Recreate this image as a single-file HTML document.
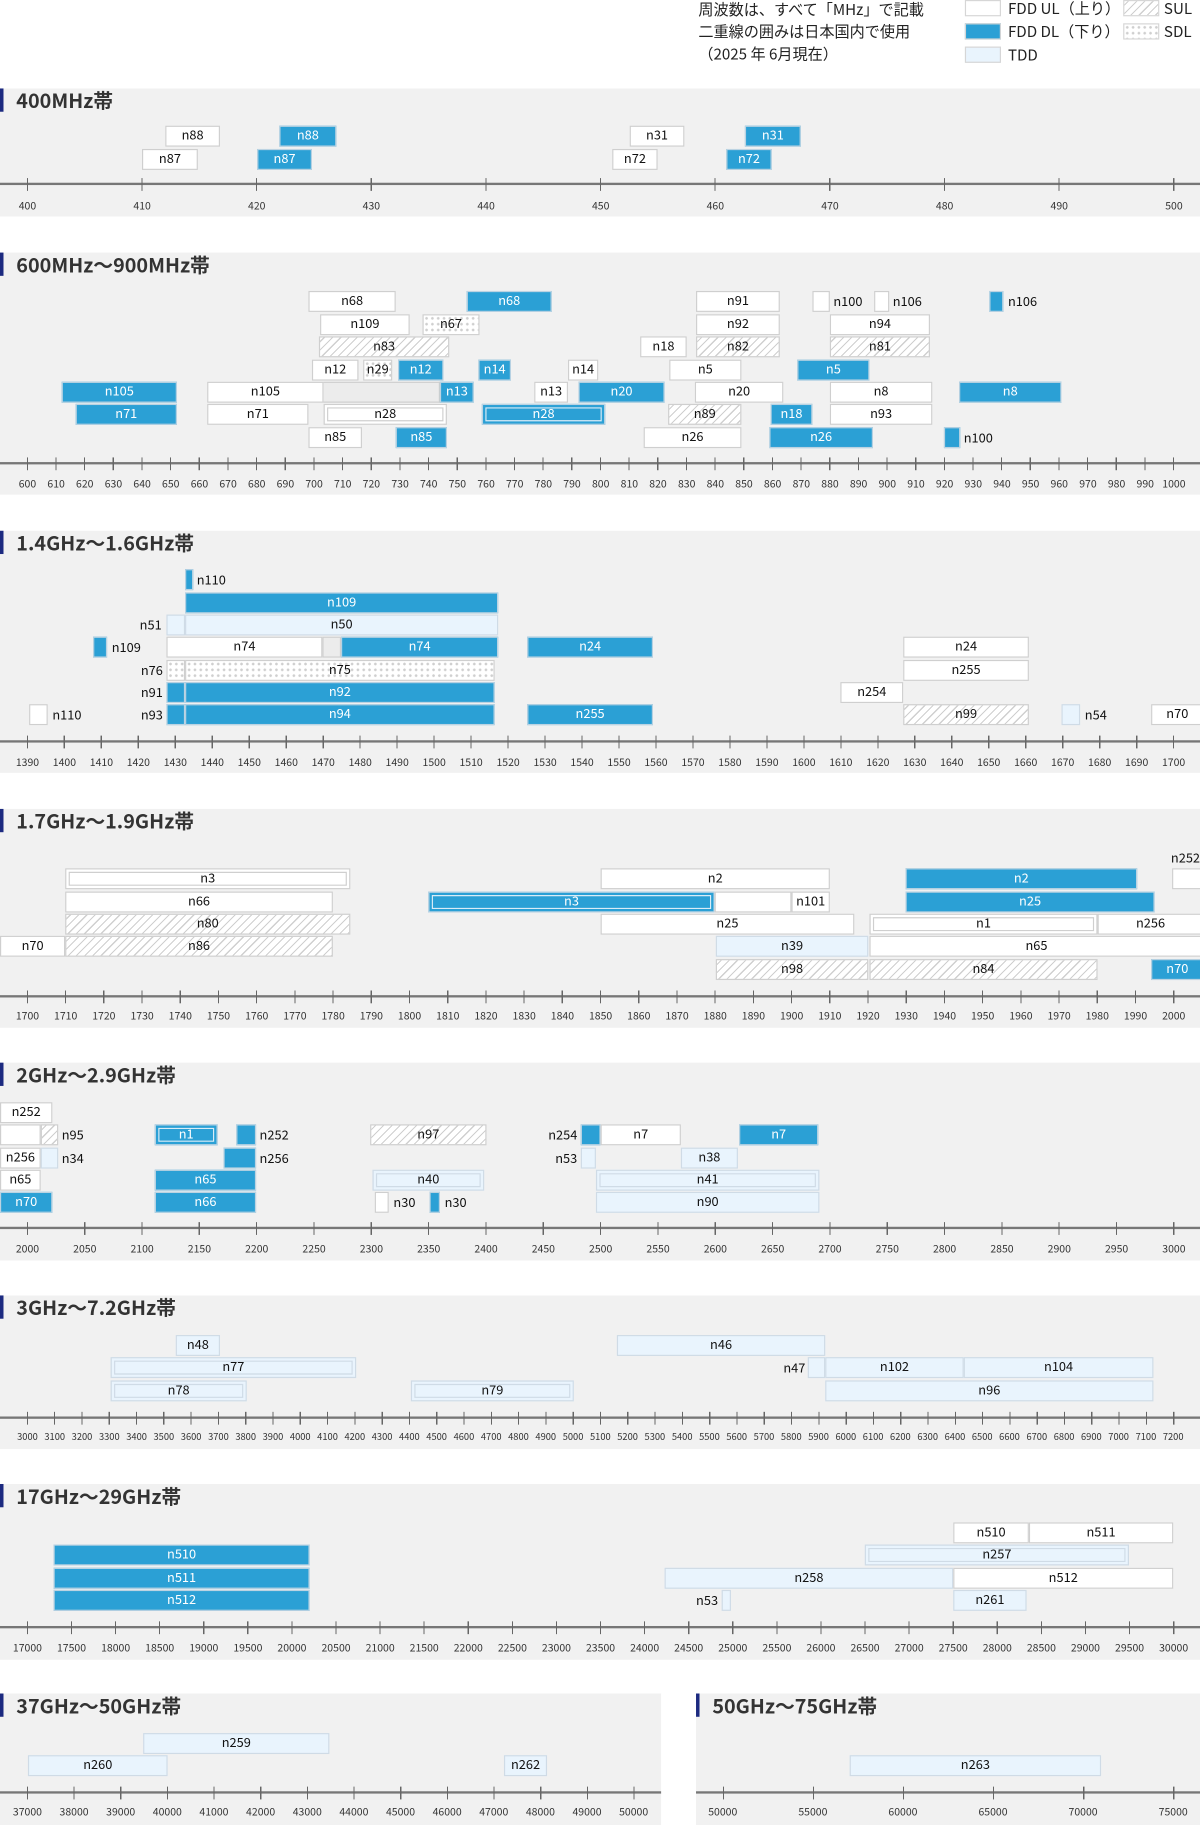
<!DOCTYPE html>
<html><head><meta charset="utf-8"><style>
*{margin:0;padding:0;box-sizing:border-box}
body{width:1200px;height:1825px;background:#fff;overflow:hidden;font-family:"Liberation Sans","Noto Sans CJK JP",sans-serif}
#w{position:absolute;left:0;top:0;width:1031px;height:1568px;transform:scale(1.16392);transform-origin:0 0;font-family:"Noto Sans CJK JP","Liberation Sans",sans-serif}
.sec{position:absolute;background:#f1f1f1}
.tt{position:absolute;font-size:17px;font-weight:bold;color:#333;line-height:20px;padding-left:11px;border-left:3px solid #1c2a80;margin-left:0}
.b{position:absolute;height:18px;border:1.5px solid #cfcfcf;font-size:11px;line-height:15px;text-align:center;color:#111;white-space:nowrap;overflow:hidden}
.w{background:#fff}
.d{background:#2ba0d5;color:#fff;border-color:#bcd3e2}
.t{background:#e9f4fd;border-color:#cfdbe6}
.s{background:repeating-linear-gradient(135deg,#fff 0 2px,#cfcfcf 2px 3px,#fff 3px 5px)}
.p{background-color:#fff;background-image:radial-gradient(#cfcfcf 1px,transparent 1.3px);background-size:5px 5px}
.g{background:#ececec}
.x{box-shadow:inset 0 0 0 2px #fff,inset 0 0 0 3px #cfcfcf}
.d.x{box-shadow:inset 0 0 0 2px #2ba0d5,inset 0 0 0 3px #d9ecf7}
.t.x{box-shadow:inset 0 0 0 2px #e9f4fd,inset 0 0 0 3px #cfdbe6}
.l{position:absolute;font-size:11px;line-height:18px;color:#111;white-space:nowrap}
.ax{position:absolute;height:2px;background:#777}
.tk{position:absolute;height:11px}
.lb{position:absolute;display:flex;justify-content:space-between;font-size:9px;color:#333;line-height:12px}
.lb span{display:block;width:34px;text-align:center}
.lg{position:absolute;font-size:13px;color:#222;line-height:19px}
.lgb{position:absolute;width:31px;height:14px;border:1.5px solid #d6d6d6}
</style></head><body><div id="w">

<div class="lg" style="left:600px;top:-2px">周波数は、すべて「MHz」で記載<br>二重線の囲みは日本国内で使用<br>（2025 年 6月現在）</div>
<div class="lgb" style="left:829px;top:0;background:#fff"></div><div class="lg" style="left:866px;top:-3px">FDD UL（上り）</div>
<div class="lgb" style="left:829px;top:20px;background:#2ba0d5"></div><div class="lg" style="left:866px;top:17px">FDD DL（下り）</div>
<div class="lgb" style="left:829px;top:40px;background:#e9f4fd"></div><div class="lg" style="left:866px;top:37px">TDD</div>
<div class="lgb s" style="left:965px;top:0;border:1.5px solid #d6d6d6"></div><div class="lg" style="left:1000px;top:-3px">SUL</div>
<div class="lgb p" style="left:965px;top:20px;border:1.5px solid #d6d6d6"></div><div class="lg" style="left:1000px;top:17px">SDL</div>

<!-- S1 -->
<div class="sec" style="left:0;top:76px;width:1031px;height:110px"></div>
<div class="tt" style="left:0;top:76px">400MHz帯</div>
<div class="b w" style="left:142px;top:108px;width:47px">n88</div>
<div class="b d" style="left:240px;top:108px;width:49px">n88</div>
<div class="b w" style="left:122px;top:128px;width:48px">n87</div>
<div class="b d" style="left:221px;top:128px;width:47px">n87</div>
<div class="b w" style="left:541px;top:108px;width:47px">n31</div>
<div class="b d" style="left:640px;top:108px;width:48px">n31</div>
<div class="b w" style="left:526px;top:128px;width:39px">n72</div>
<div class="b d" style="left:624px;top:128px;width:39px">n72</div>
<div class="ax" style="left:0;top:157px;width:1031px"></div>
<div class="tk" style="left:23.1px;top:153px;width:987px;background:repeating-linear-gradient(to right,#666 0 1px,transparent 1px 98.49px)"></div>
<div class="lb" style="left:6.6px;top:171px;width:1019px"><span>400</span><span>410</span><span>420</span><span>430</span><span>440</span><span>450</span><span>460</span><span>470</span><span>480</span><span>490</span><span>500</span></div>

<!-- S2 -->
<div class="sec" style="left:0;top:217px;width:1031px;height:208px"></div>
<div class="tt" style="left:0;top:217px">600MHz～900MHz帯</div>
<div class="b w" style="left:265px;top:250px;width:75px">n68</div>
<div class="b d" style="left:401px;top:250px;width:73px">n68</div>
<div class="b w" style="left:598px;top:250px;width:72px">n91</div>
<div class="b w" style="left:698px;top:250px;width:15px"></div><div class="l" style="left:716px;top:250px">n100</div>
<div class="b w" style="left:751px;top:250px;width:13px"></div><div class="l" style="left:767px;top:250px">n106</div>
<div class="b d" style="left:850px;top:250px;width:12px"></div><div class="l" style="left:866px;top:250px">n106</div>
<div class="b w" style="left:275px;top:270px;width:77px">n109</div>
<div class="b p" style="left:363px;top:270px;width:49px">n67</div>
<div class="b w" style="left:598px;top:270px;width:72px">n92</div>
<div class="b w" style="left:713px;top:270px;width:86px">n94</div>
<div class="b s" style="left:274px;top:289px;width:112px">n83</div>
<div class="b w" style="left:550px;top:289px;width:40px">n18</div>
<div class="b s" style="left:598px;top:289px;width:72px">n82</div>
<div class="b s" style="left:713px;top:289px;width:86px">n81</div>
<div class="b w" style="left:268px;top:309px;width:40px">n12</div>
<div class="b p" style="left:312px;top:309px;width:25px">n29</div>
<div class="b d" style="left:342px;top:309px;width:39px">n12</div>
<div class="b d" style="left:411px;top:309px;width:28px">n14</div>
<div class="b w" style="left:488px;top:309px;width:26px">n14</div>
<div class="b w" style="left:575px;top:309px;width:62px">n5</div>
<div class="b d" style="left:685px;top:309px;width:62px">n5</div>
<div class="b d" style="left:53px;top:328px;width:99px">n105</div>
<div class="b w" style="left:178px;top:328px;width:100px">n105</div>
<div class="b g" style="left:278px;top:328px;width:100px;border-left:none"></div>
<div class="b d" style="left:378px;top:328px;width:29px">n13</div>
<div class="b w" style="left:459px;top:328px;width:29px">n13</div>
<div class="b d" style="left:497px;top:328px;width:74px">n20</div>
<div class="b w" style="left:597px;top:328px;width:76px">n20</div>
<div class="b w" style="left:713px;top:328px;width:88px">n8</div>
<div class="b d" style="left:824px;top:328px;width:88px">n8</div>
<div class="b d" style="left:65px;top:347px;width:87px">n71</div>
<div class="b w" style="left:178px;top:347px;width:87px">n71</div>
<div class="b w x" style="left:278px;top:347px;width:106px">n28</div>
<div class="b d x" style="left:414px;top:347px;width:106px">n28</div>
<div class="b s" style="left:574px;top:347px;width:63px">n89</div>
<div class="b d" style="left:662px;top:347px;width:36px">n18</div>
<div class="b w" style="left:713px;top:347px;width:88px">n93</div>
<div class="b w" style="left:265px;top:367px;width:46px">n85</div>
<div class="b d" style="left:340px;top:367px;width:44px">n85</div>
<div class="b w" style="left:553px;top:367px;width:84px">n26</div>
<div class="b d" style="left:661px;top:367px;width:89px">n26</div>
<div class="b d" style="left:811px;top:367px;width:14px"></div><div class="l" style="left:828px;top:367px">n100</div>
<div class="ax" style="left:0;top:397px;width:1031px"></div>
<div class="tk" style="left:23.1px;top:393px;width:987px;background:repeating-linear-gradient(to right,#666 0 1px,transparent 1px 24.62px)"></div>
<div class="lb" style="left:11.6px;top:410px;width:1009px"><span style="width:24px">600</span><span style="width:24px">610</span><span style="width:24px">620</span><span style="width:24px">630</span><span style="width:24px">640</span><span style="width:24px">650</span><span style="width:24px">660</span><span style="width:24px">670</span><span style="width:24px">680</span><span style="width:24px">690</span><span style="width:24px">700</span><span style="width:24px">710</span><span style="width:24px">720</span><span style="width:24px">730</span><span style="width:24px">740</span><span style="width:24px">750</span><span style="width:24px">760</span><span style="width:24px">770</span><span style="width:24px">780</span><span style="width:24px">790</span><span style="width:24px">800</span><span style="width:24px">810</span><span style="width:24px">820</span><span style="width:24px">830</span><span style="width:24px">840</span><span style="width:24px">850</span><span style="width:24px">860</span><span style="width:24px">870</span><span style="width:24px">880</span><span style="width:24px">890</span><span style="width:24px">900</span><span style="width:24px">910</span><span style="width:24px">920</span><span style="width:24px">930</span><span style="width:24px">940</span><span style="width:24px">950</span><span style="width:24px">960</span><span style="width:24px">970</span><span style="width:24px">980</span><span style="width:24px">990</span><span style="width:24px">1000</span></div>

<!-- S3 -->
<div class="sec" style="left:0;top:456px;width:1031px;height:208px"></div>
<div class="tt" style="left:0;top:456px">1.4GHz～1.6GHz帯</div>
<div class="b d" style="left:159px;top:489px;width:7px"></div><div class="l" style="left:169px;top:489px">n110</div>
<div class="b d" style="left:159px;top:509px;width:269px">n109</div>
<div class="l" style="left:120px;top:528px">n51</div><div class="b t" style="left:143px;top:528px;width:16px"></div>
<div class="b t" style="left:159px;top:528px;width:269px">n50</div>
<div class="b d" style="left:80px;top:547px;width:12px"></div><div class="l" style="left:96px;top:547px">n109</div>
<div class="b w" style="left:143px;top:547px;width:134px">n74</div>
<div class="b g" style="left:277px;top:547px;width:16px"></div>
<div class="b d" style="left:293px;top:547px;width:135px">n74</div>
<div class="b d" style="left:453px;top:547px;width:108px">n24</div>
<div class="b w" style="left:776px;top:547px;width:108px">n24</div>
<div class="l" style="left:121px;top:567px">n76</div><div class="b p" style="left:143px;top:567px;width:16px"></div>
<div class="b p" style="left:159px;top:567px;width:266px">n75</div>
<div class="b w" style="left:776px;top:567px;width:108px">n255</div>
<div class="l" style="left:121px;top:586px">n91</div><div class="b d" style="left:143px;top:586px;width:16px"></div>
<div class="b d" style="left:159px;top:586px;width:266px">n92</div>
<div class="b w" style="left:722px;top:586px;width:54px">n254</div>
<div class="b w" style="left:25px;top:605px;width:16px"></div><div class="l" style="left:45px;top:605px">n110</div>
<div class="l" style="left:121px;top:605px">n93</div><div class="b d" style="left:143px;top:605px;width:16px"></div>
<div class="b d" style="left:159px;top:605px;width:266px">n94</div>
<div class="b d" style="left:453px;top:605px;width:108px">n255</div>
<div class="b s" style="left:776px;top:605px;width:108px">n99</div>
<div class="b t" style="left:912px;top:605px;width:16px"></div><div class="l" style="left:932px;top:605px">n54</div>
<div class="b w" style="left:989px;top:605px;width:45px">n70</div>
<div class="ax" style="left:0;top:636px;width:1031px"></div>
<div class="tk" style="left:23.1px;top:632px;width:987px;background:repeating-linear-gradient(to right,#666 0 1px,transparent 1px 31.77px)"></div>
<div class="lb" style="left:10.6px;top:649px;width:1011px"><span style="width:26px">1390</span><span style="width:26px">1400</span><span style="width:26px">1410</span><span style="width:26px">1420</span><span style="width:26px">1430</span><span style="width:26px">1440</span><span style="width:26px">1450</span><span style="width:26px">1460</span><span style="width:26px">1470</span><span style="width:26px">1480</span><span style="width:26px">1490</span><span style="width:26px">1500</span><span style="width:26px">1510</span><span style="width:26px">1520</span><span style="width:26px">1530</span><span style="width:26px">1540</span><span style="width:26px">1550</span><span style="width:26px">1560</span><span style="width:26px">1570</span><span style="width:26px">1580</span><span style="width:26px">1590</span><span style="width:26px">1600</span><span style="width:26px">1610</span><span style="width:26px">1620</span><span style="width:26px">1630</span><span style="width:26px">1640</span><span style="width:26px">1650</span><span style="width:26px">1660</span><span style="width:26px">1670</span><span style="width:26px">1680</span><span style="width:26px">1690</span><span style="width:26px">1700</span></div>

<!-- S4 -->
<div class="sec" style="left:0;top:695px;width:1031px;height:188px"></div>
<div class="tt" style="left:0;top:695px">1.7GHz～1.9GHz帯</div>
<div class="l" style="left:1006px;top:728px">n252</div>
<div class="b w x" style="left:56px;top:746px;width:245px">n3</div>
<div class="b w" style="left:516px;top:746px;width:197px">n2</div>
<div class="b d" style="left:778px;top:746px;width:199px">n2</div>
<div class="b w" style="left:1007px;top:746px;width:30px"></div>
<div class="b w" style="left:56px;top:766px;width:230px">n66</div>
<div class="b d x" style="left:368px;top:766px;width:246px">n3</div>
<div class="b w" style="left:614px;top:766px;width:66px"></div>
<div class="b w" style="left:680px;top:766px;width:33px">n101</div>
<div class="b d" style="left:778px;top:766px;width:214px">n25</div>
<div class="b s" style="left:56px;top:785px;width:245px">n80</div>
<div class="b w" style="left:516px;top:785px;width:218px">n25</div>
<div class="b w x" style="left:747px;top:785px;width:196px">n1</div>
<div class="b w" style="left:943px;top:785px;width:91px">n256</div>
<div class="b w" style="left:0;top:804px;width:56px">n70</div>
<div class="b s" style="left:56px;top:804px;width:230px">n86</div>
<div class="b t" style="left:615px;top:804px;width:131px">n39</div>
<div class="b w" style="left:747px;top:804px;width:287px">n65</div>
<div class="b s" style="left:615px;top:824px;width:131px">n98</div>
<div class="b s" style="left:747px;top:824px;width:196px">n84</div>
<div class="b d" style="left:989px;top:824px;width:45px">n70</div>
<div class="ax" style="left:0;top:855px;width:1031px"></div>
<div class="tk" style="left:23.1px;top:851px;width:987px;background:repeating-linear-gradient(to right,#666 0 1px,transparent 1px 32.83px)"></div>
<div class="lb" style="left:10.6px;top:867px;width:1011px"><span style="width:26px">1700</span><span style="width:26px">1710</span><span style="width:26px">1720</span><span style="width:26px">1730</span><span style="width:26px">1740</span><span style="width:26px">1750</span><span style="width:26px">1760</span><span style="width:26px">1770</span><span style="width:26px">1780</span><span style="width:26px">1790</span><span style="width:26px">1800</span><span style="width:26px">1810</span><span style="width:26px">1820</span><span style="width:26px">1830</span><span style="width:26px">1840</span><span style="width:26px">1850</span><span style="width:26px">1860</span><span style="width:26px">1870</span><span style="width:26px">1880</span><span style="width:26px">1890</span><span style="width:26px">1900</span><span style="width:26px">1910</span><span style="width:26px">1920</span><span style="width:26px">1930</span><span style="width:26px">1940</span><span style="width:26px">1950</span><span style="width:26px">1960</span><span style="width:26px">1970</span><span style="width:26px">1980</span><span style="width:26px">1990</span><span style="width:26px">2000</span></div>

<!-- S5 -->
<div class="sec" style="left:0;top:913px;width:1031px;height:170px"></div>
<div class="tt" style="left:0;top:913px">2GHz～2.9GHz帯</div>
<div class="b w" style="left:0;top:947px;width:45px">n252</div>
<div class="b w" style="left:0;top:966px;width:35px"></div>
<div class="b s" style="left:35px;top:966px;width:15px"></div><div class="l" style="left:53px;top:966px">n95</div>
<div class="b d x" style="left:133px;top:966px;width:54px">n1</div>
<div class="b d" style="left:203px;top:966px;width:17px"></div><div class="l" style="left:223px;top:966px">n252</div>
<div class="b s" style="left:318px;top:966px;width:100px">n97</div>
<div class="l" style="left:471px;top:966px">n254</div><div class="b d" style="left:499px;top:966px;width:17px"></div>
<div class="b w" style="left:516px;top:966px;width:69px">n7</div>
<div class="b d" style="left:635px;top:966px;width:68px">n7</div>
<div class="b w" style="left:0;top:986px;width:35px">n256</div>
<div class="b t" style="left:35px;top:986px;width:15px"></div><div class="l" style="left:53px;top:986px">n34</div>
<div class="b d" style="left:192px;top:986px;width:28px"></div><div class="l" style="left:223px;top:986px">n256</div>
<div class="l" style="left:477px;top:986px">n53</div><div class="b t" style="left:499px;top:986px;width:13px"></div>
<div class="b t" style="left:585px;top:986px;width:49px">n38</div>
<div class="b w" style="left:0;top:1005px;width:35px">n65</div>
<div class="b d" style="left:133px;top:1005px;width:87px">n65</div>
<div class="b t x" style="left:320px;top:1005px;width:96px">n40</div>
<div class="b t x" style="left:512px;top:1005px;width:192px">n41</div>
<div class="b d" style="left:0;top:1024px;width:45px">n70</div>
<div class="b d" style="left:133px;top:1024px;width:87px">n66</div>
<div class="b w" style="left:322px;top:1024px;width:12px"></div><div class="l" style="left:338px;top:1024px">n30</div>
<div class="b d" style="left:369px;top:1024px;width:9px"></div><div class="l" style="left:382px;top:1024px">n30</div>
<div class="b t" style="left:512px;top:1024px;width:192px">n90</div>
<div class="ax" style="left:0;top:1054px;width:1031px"></div>
<div class="tk" style="left:23.1px;top:1050px;width:987px;background:repeating-linear-gradient(to right,#666 0 1px,transparent 1px 49.25px)"></div>
<div class="lb" style="left:8.6px;top:1067px;width:1015px"><span style="width:30px">2000</span><span style="width:30px">2050</span><span style="width:30px">2100</span><span style="width:30px">2150</span><span style="width:30px">2200</span><span style="width:30px">2250</span><span style="width:30px">2300</span><span style="width:30px">2350</span><span style="width:30px">2400</span><span style="width:30px">2450</span><span style="width:30px">2500</span><span style="width:30px">2550</span><span style="width:30px">2600</span><span style="width:30px">2650</span><span style="width:30px">2700</span><span style="width:30px">2750</span><span style="width:30px">2800</span><span style="width:30px">2850</span><span style="width:30px">2900</span><span style="width:30px">2950</span><span style="width:30px">3000</span></div>

<!-- S6 -->
<div class="sec" style="left:0;top:1113px;width:1031px;height:132px"></div>
<div class="tt" style="left:0;top:1113px">3GHz～7.2GHz帯</div>
<div class="b t" style="left:151px;top:1147px;width:38px">n48</div>
<div class="b t" style="left:530px;top:1147px;width:179px">n46</div>
<div class="b t x" style="left:95px;top:1166px;width:211px">n77</div>
<div class="l" style="left:673px;top:1166px">n47</div><div class="b t" style="left:694px;top:1166px;width:15px"></div>
<div class="b t" style="left:709px;top:1166px;width:119px">n102</div>
<div class="b t" style="left:828px;top:1166px;width:163px">n104</div>
<div class="b t x" style="left:95px;top:1186px;width:117px">n78</div>
<div class="b t x" style="left:353px;top:1186px;width:140px">n79</div>
<div class="b t" style="left:709px;top:1186px;width:282px">n96</div>
<div class="ax" style="left:0;top:1217px;width:1031px"></div>
<div class="tk" style="left:23.1px;top:1213px;width:987px;background:repeating-linear-gradient(to right,#666 0 1px,transparent 1px 23.45px)"></div>
<div class="lb" style="left:12.6px;top:1229px;width:1007px;font-size:8px"><span style="width:22px">3000</span><span style="width:22px">3100</span><span style="width:22px">3200</span><span style="width:22px">3300</span><span style="width:22px">3400</span><span style="width:22px">3500</span><span style="width:22px">3600</span><span style="width:22px">3700</span><span style="width:22px">3800</span><span style="width:22px">3900</span><span style="width:22px">4000</span><span style="width:22px">4100</span><span style="width:22px">4200</span><span style="width:22px">4300</span><span style="width:22px">4400</span><span style="width:22px">4500</span><span style="width:22px">4600</span><span style="width:22px">4700</span><span style="width:22px">4800</span><span style="width:22px">4900</span><span style="width:22px">5000</span><span style="width:22px">5100</span><span style="width:22px">5200</span><span style="width:22px">5300</span><span style="width:22px">5400</span><span style="width:22px">5500</span><span style="width:22px">5600</span><span style="width:22px">5700</span><span style="width:22px">5800</span><span style="width:22px">5900</span><span style="width:22px">6000</span><span style="width:22px">6100</span><span style="width:22px">6200</span><span style="width:22px">6300</span><span style="width:22px">6400</span><span style="width:22px">6500</span><span style="width:22px">6600</span><span style="width:22px">6700</span><span style="width:22px">6800</span><span style="width:22px">6900</span><span style="width:22px">7000</span><span style="width:22px">7100</span><span style="width:22px">7200</span></div>

<!-- S7 -->
<div class="sec" style="left:0;top:1275px;width:1031px;height:151px"></div>
<div class="tt" style="left:0;top:1275px">17GHz～29GHz帯</div>
<div class="b w" style="left:819px;top:1308px;width:65px">n510</div>
<div class="b w" style="left:884px;top:1308px;width:124px">n511</div>
<div class="b d" style="left:46px;top:1327px;width:220px">n510</div>
<div class="b t x" style="left:743px;top:1327px;width:227px">n257</div>
<div class="b d" style="left:46px;top:1347px;width:220px">n511</div>
<div class="b t" style="left:571px;top:1347px;width:248px">n258</div>
<div class="b w" style="left:819px;top:1347px;width:189px">n512</div>
<div class="b d" style="left:46px;top:1366px;width:220px">n512</div>
<div class="l" style="left:598px;top:1366px">n53</div><div class="b t" style="left:620px;top:1366px;width:8px"></div>
<div class="b t" style="left:819px;top:1366px;width:63px">n261</div>
<div class="ax" style="left:0;top:1397px;width:1031px"></div>
<div class="tk" style="left:23.1px;top:1393px;width:987px;background:repeating-linear-gradient(to right,#666 0 1px,transparent 1px 37.88px)"></div>
<div class="lb" style="left:8.6px;top:1410px;width:1015px"><span style="width:30px">17000</span><span style="width:30px">17500</span><span style="width:30px">18000</span><span style="width:30px">18500</span><span style="width:30px">19000</span><span style="width:30px">19500</span><span style="width:30px">20000</span><span style="width:30px">20500</span><span style="width:30px">21000</span><span style="width:30px">21500</span><span style="width:30px">22000</span><span style="width:30px">22500</span><span style="width:30px">23000</span><span style="width:30px">23500</span><span style="width:30px">24000</span><span style="width:30px">24500</span><span style="width:30px">25000</span><span style="width:30px">25500</span><span style="width:30px">26000</span><span style="width:30px">26500</span><span style="width:30px">27000</span><span style="width:30px">27500</span><span style="width:30px">28000</span><span style="width:30px">28500</span><span style="width:30px">29000</span><span style="width:30px">29500</span><span style="width:30px">30000</span></div>

<!-- S8 -->
<div class="sec" style="left:0;top:1455px;width:568px;height:113px"></div>
<div class="tt" style="left:0;top:1455px">37GHz～50GHz帯</div>
<div class="b t" style="left:123px;top:1489px;width:160px">n259</div>
<div class="b t" style="left:24px;top:1508px;width:120px">n260</div>
<div class="b t" style="left:433px;top:1508px;width:37px">n262</div>
<div class="ax" style="left:0;top:1539px;width:568px"></div>
<div class="tk" style="left:23.1px;top:1535px;width:523px;background:repeating-linear-gradient(to right,#666 0 1px,transparent 1px 40.1px)"></div>
<div class="lb" style="left:8.6px;top:1551px;width:551px"><span style="width:30px">37000</span><span style="width:30px">38000</span><span style="width:30px">39000</span><span style="width:30px">40000</span><span style="width:30px">41000</span><span style="width:30px">42000</span><span style="width:30px">43000</span><span style="width:30px">44000</span><span style="width:30px">45000</span><span style="width:30px">46000</span><span style="width:30px">47000</span><span style="width:30px">48000</span><span style="width:30px">49000</span><span style="width:30px">50000</span></div>

<!-- S9 -->
<div class="sec" style="left:598px;top:1455px;width:433px;height:113px"></div>
<div class="tt" style="left:598px;top:1455px">50GHz～75GHz帯</div>
<div class="b t" style="left:730px;top:1508px;width:216px">n263</div>
<div class="ax" style="left:598px;top:1539px;width:433px"></div>
<div class="tk" style="left:620.5px;top:1535px;width:389px;background:repeating-linear-gradient(to right,#666 0 1px,transparent 1px 77.4px)"></div>
<div class="lb" style="left:606px;top:1551px;width:417px"><span style="width:30px">50000</span><span style="width:30px">55000</span><span style="width:30px">60000</span><span style="width:30px">65000</span><span style="width:30px">70000</span><span style="width:30px">75000</span></div>

</div></body></html>
